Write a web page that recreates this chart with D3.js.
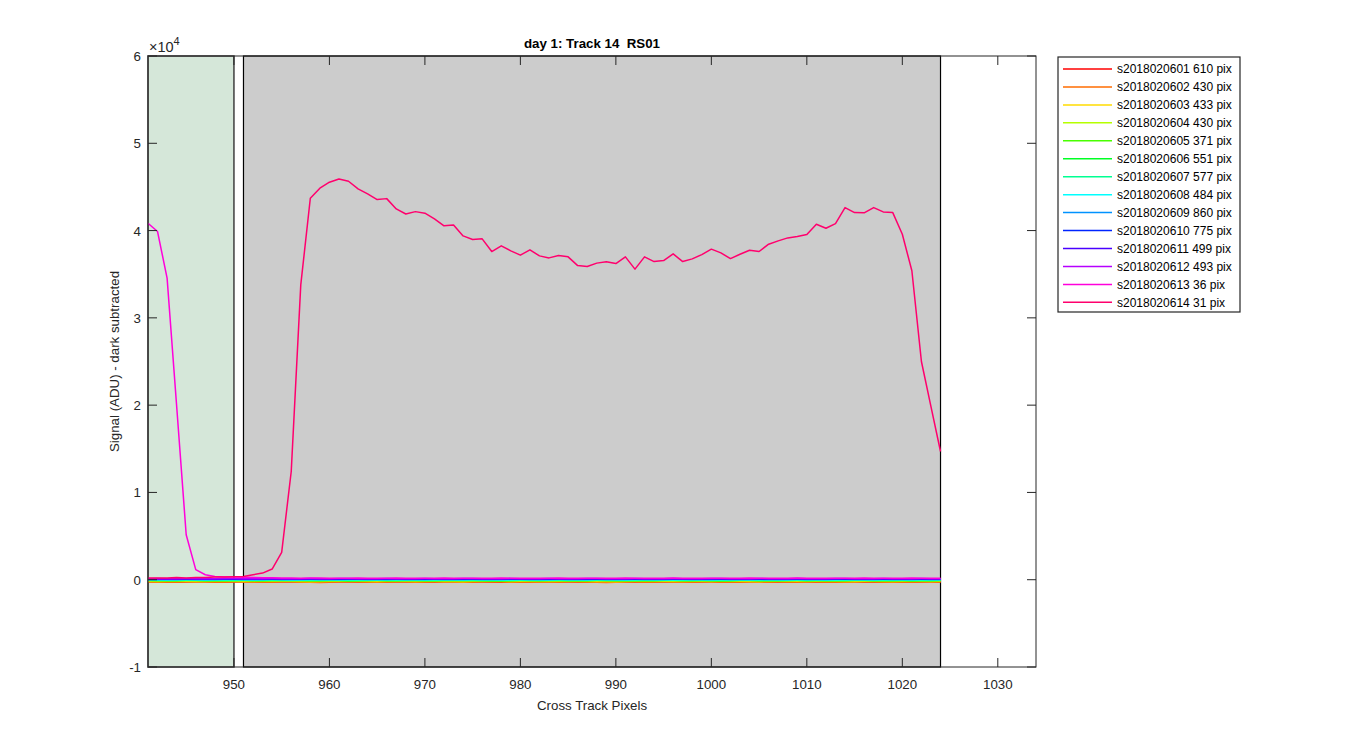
<!DOCTYPE html>
<html><head><meta charset="utf-8">
<script src="https://cdn.jsdelivr.net/npm/d3@7"></script>
<style>
html,body{margin:0;padding:0;background:#fff;}
svg{display:block;font-family:"Liberation Sans",Arial,sans-serif;}
text{white-space:pre;}
</style></head>
<body>
<svg id="c" width="1350" height="750"></svg>
<script>
// ---- data ----
const pixels = d3.range(941, 1025); // cross-track pixel index 941..1024
const xTicks = [950, 960, 970, 980, 990, 1000, 1010, 1020, 1030];
const yTicks = [-1, 0, 1, 2, 3, 4, 5, 6]; // x10^4
const seriesNames = ["s2018020601","s2018020602","s2018020603","s2018020604","s2018020605","s2018020606","s2018020607","s2018020608","s2018020609","s2018020610","s2018020611","s2018020612","s2018020613","s2018020614"];
const pixCounts = [610, 430, 433, 430, 371, 551, 577, 484, 860, 775, 499, 493, 36, 31];
const greenBand = [941, 950];
const grayBand = [951, 1024];

const s01 = [-210,-230,-220,-250,-240,-220,-230,-260,-240,-230,
 -220,-250,-270,-240,-230,-220,-240,-260,-250,-230,
 -210,-240,-260,-280,-250,-230,-240,-220,-250,-270,
 -260,-230,-240,-250,-220,-240,-270,-290,-250,-230,
 -240,-260,-250,-220,-230,-270,-300,-260,-240,-230,
 -250,-260,-240,-230,-220,-250,-270,-260,-240,-230,
 -250,-240,-220,-230,-260,-280,-250,-240,-230,-250,
 -270,-260,-240,-220,-230,-250,-260,-280,-300,-270,
 -250,-240,-230,-250];
const s02 = [-260,-280,-270,-290,-260,-250,-270,-280,-300,-270,
 -260,-250,-280,-290,-270,-260,-280,-300,-310,-280,
 -270,-260,-250,-270,-290,-280,-260,-270,-300,-280,
 -270,-250,-260,-280,-290,-270,-260,-250,-280,-300,
 -290,-270,-260,-280,-270,-250,-260,-290,-310,-280,
 -270,-260,-280,-290,-270,-250,-260,-280,-270,-260,
 -290,-300,-280,-270,-260,-250,-270,-290,-280,-260,
 -270,-280,-300,-290,-270,-260,-250,-270,-280,-300,
 -290,-270,-260,-280];
const s03 = [-180,-200,-190,-170,-190,-210,-200,-180,-170,-190,
 -200,-210,-190,-180,-170,-190,-200,-220,-200,-180,
 -190,-170,-180,-200,-210,-190,-180,-190,-200,-170,
 -180,-200,-210,-220,-190,-180,-170,-190,-200,-180,
 -190,-210,-200,-180,-170,-180,-200,-190,-210,-220,
 -200,-180,-190,-170,-180,-200,-210,-190,-180,-200,
 -190,-170,-180,-200,-220,-210,-190,-180,-190,-200,
 -180,-170,-190,-210,-200,-180,-190,-200,-210,-190,
 -180,-190,-200,-180];
const s04 = [-120,-140,-130,-110,-130,-150,-140,-120,-130,-140,
 -110,-120,-140,-150,-130,-120,-110,-130,-140,-120,
 -130,-150,-140,-120,-110,-130,-140,-130,-120,-150,
 -140,-120,-130,-110,-120,-140,-150,-130,-120,-140,
 -130,-110,-120,-140,-130,-150,-140,-120,-130,-110,
 -120,-140,-130,-120,-150,-140,-130,-110,-120,-130,
 -140,-150,-130,-120,-110,-130,-140,-120,-130,-150,
 -140,-130,-120,-110,-130,-140,-120,-130,-140,-150,
 -130,-120,-140,-130];
const s05 = [-100,-90,-110,-120,-100,-90,-110,-130,-110,-100,
 -90,-120,-140,-110,-100,-90,-110,-120,-100,-110,
 -130,-150,-110,-90,-100,-120,-110,-100,-90,-110,
 -120,-130,-110,-100,-90,-110,-140,-160,-120,-100,
 -90,-110,-120,-100,-110,-130,-120,-100,-90,-110,
 -100,-120,-140,-110,-100,-90,-110,-120,-100,-110,
 -150,-130,-100,-90,-110,-120,-110,-100,-90,-110,
 -130,-120,-100,-110,-90,-100,-120,-110,-100,-130,
 -150,-120,-100,-110];
const s06 = [-70,-80,-90,-80,-70,-60,-80,-90,-100,-80,
 -70,-80,-60,-70,-90,-80,-70,-80,-90,-70,
 -60,-80,-90,-80,-70,-80,-100,-90,-70,-80,
 -80,-70,-60,-80,-90,-80,-70,-90,-80,-70,
 -80,-90,-70,-60,-80,-90,-80,-70,-80,-100,
 -90,-80,-70,-80,-60,-70,-90,-80,-70,-80,
 -90,-80,-70,-60,-80,-90,-100,-80,-70,-80,
 -70,-80,-90,-80,-70,-60,-80,-90,-80,-70,
 -80,-90,-80,-70];
const s07 = [-40,-50,-60,-50,-40,-50,-70,-60,-50,-40,
 -50,-60,-50,-40,-30,-50,-60,-50,-70,-50,
 -40,-50,-60,-50,-40,-50,-60,-70,-50,-40,
 -50,-40,-60,-50,-40,-50,-60,-50,-40,-50,
 -60,-70,-50,-40,-50,-60,-50,-40,-30,-50,
 -60,-50,-40,-50,-60,-50,-70,-60,-50,-40,
 -50,-60,-50,-40,-50,-60,-50,-40,-50,-60,
 -70,-50,-40,-50,-60,-50,-40,-50,-60,-50,
 -40,-50,-60,-50];
const s08 = [-10,0,-20,-10,0,-10,-20,-10,0,10,
 -10,-20,-10,0,-10,-20,-30,-10,0,-10,
 -20,-10,0,-10,-20,-10,0,10,-10,-20,
 -10,0,-10,-20,-10,0,-10,-20,-30,-10,
 0,-10,-20,-10,0,-10,-20,-10,0,-10,
 -20,-10,0,10,-10,-20,-10,0,-10,-20,
 -10,0,-10,-20,-10,0,-10,-20,-10,0,
 -10,-20,-30,-10,0,-10,-20,-10,0,-10,
 -20,-10,0,-10];
const s09 = [30,40,20,30,40,30,20,30,40,50,
 30,20,30,40,30,20,30,40,30,20,
 30,40,50,30,20,30,40,30,20,30,
 40,30,20,30,40,30,20,30,40,50,
 30,20,30,40,30,20,30,40,30,20,
 30,40,30,20,30,40,50,30,20,30,
 40,30,20,30,40,30,20,30,40,30,
 20,30,40,50,30,20,30,40,30,20,
 30,40,30,20];
const s10 = [60,70,50,60,70,60,50,60,70,60,
 50,60,70,80,60,50,60,70,60,50,
 60,70,60,50,60,70,80,60,50,60,
 70,60,50,60,70,60,50,60,70,60,
 80,60,50,60,70,60,50,60,70,60,
 50,60,70,60,80,70,60,50,60,70,
 60,50,60,70,60,50,60,70,80,60,
 50,60,70,60,50,60,70,60,50,60,
 70,60,50,60];
const s11 = [90,100,80,90,100,90,80,90,100,110,
 90,80,90,100,90,80,90,100,90,80,
 100,110,90,80,90,100,90,80,90,100,
 90,80,90,100,110,90,80,90,100,90,
 80,90,100,90,80,90,100,110,90,80,
 90,100,90,80,90,100,90,80,90,110,
 100,90,80,90,100,90,80,90,100,90,
 80,90,100,110,90,80,90,100,90,80,
 90,100,90,80];
const s12 = [120,130,110,120,130,120,110,120,130,140,
 120,110,120,130,120,110,120,130,120,110,
 130,140,120,110,120,130,120,110,120,130,
 120,110,120,130,140,120,110,120,130,120,
 110,120,130,120,110,120,130,140,120,110,
 120,130,120,110,120,130,120,110,120,140,
 130,120,110,120,130,120,110,120,130,120,
 110,120,130,140,120,110,120,130,120,110,
 120,130,120,110];
const s13 = [40840,39890,34550,19900,5150,1150,570,380,320,300,
 280,250,230,220,200,190,180,190,200,180,
 170,180,190,170,160,180,190,170,180,160,
 170,190,180,170,160,180,170,190,180,170,
 160,170,180,190,170,160,180,170,160,180,
 190,170,160,180,170,190,180,160,170,180,
 170,160,180,190,170,160,170,180,190,170,
 160,180,170,160,180,190,170,160,170,180,
 190,170,160,170];
const s14 = [200,200,200,250,200,250,250,300,300,350,
 380,570,760,1220,3130,12400,33780,43700,44850,45540,
 45900,45650,44770,44200,43550,43660,42480,41900,42170,41990,
 41340,40540,40650,39390,38970,39050,37600,38250,37670,37180,
 37790,37100,36870,37140,36990,35990,35880,36270,36430,36220,
 36990,35580,36990,36450,36560,37330,36450,36760,37250,37870,
 37440,36790,37290,37750,37600,38440,38820,39160,39310,39540,
 40730,40270,40800,42630,42060,42030,42630,42140,42060,39580,
 35400,25000,19840,14690];
const seriesValues = [s01,s02,s03,s04,s05,s06,s07,s08,s09,s10,s11,s12,s13,s14];
const seriesColors = ["#ff0000","#ff6d00","#ffdb00","#b6ff00","#49ff00","#00ff24","#00ff92","#00ffff","#0092ff","#0024ff","#4900ff","#b600ff","#ff00db","#ff006d"];

// ---- layout ----
const L = 148, R = 1036, T = 56, B = 667;
const svg = d3.select("#c");
const x = d3.scaleLinear().domain([941, 1034]).range([L, R]);
const y = d3.scaleLinear().domain([-10000, 60000]).range([B, T]);
const axisColor = "#262626";
const tickLen = 9;

svg.append("defs").append("clipPath").attr("id","clip")
  .append("rect").attr("x",L).attr("y",T).attr("width",R-L).attr("height",B-T);

svg.append("rect").attr("x",L).attr("y",T).attr("width",R-L).attr("height",B-T).attr("fill","#fff");

// bands
svg.append("rect")
  .attr("x", x(greenBand[0])).attr("y", T)
  .attr("width", x(greenBand[1]) - x(greenBand[0])).attr("height", B - T)
  .attr("fill", "#d5e7d9").attr("stroke", "#4a4a4a").attr("stroke-width", 1.6);
svg.append("rect")
  .attr("x", x(grayBand[0])).attr("y", T)
  .attr("width", x(grayBand[1]) - x(grayBand[0])).attr("height", B - T)
  .attr("fill", "#cccccc").attr("stroke", "#000").attr("stroke-width", 1.2);

// lines
const line = d3.line().x((d,i)=>x(pixels[i])).y(d=>y(d));
const gl = svg.append("g").attr("clip-path","url(#clip)");
seriesValues.forEach((vals, k) => {
  gl.append("path").datum(vals).attr("d", line)
    .attr("fill","none").attr("stroke", seriesColors[k])
    .attr("stroke-width", 1.5).attr("stroke-linejoin","round");
});

// axes box
const ga = svg.append("g").attr("stroke", axisColor).attr("stroke-width", 1).attr("fill","none");
ga.append("rect").attr("x",L).attr("y",T).attr("width",R-L).attr("height",B-T);
xTicks.forEach(t => {
  ga.append("line").attr("x1",x(t)).attr("x2",x(t)).attr("y1",B).attr("y2",B-tickLen);
  ga.append("line").attr("x1",x(t)).attr("x2",x(t)).attr("y1",T).attr("y2",T+tickLen);
});
yTicks.forEach(t => {
  ga.append("line").attr("x1",L).attr("x2",L+tickLen).attr("y1",y(t*1e4)).attr("y2",y(t*1e4));
  ga.append("line").attr("x1",R).attr("x2",R-tickLen).attr("y1",y(t*1e4)).attr("y2",y(t*1e4));
});

// tick labels
const gt = svg.append("g").attr("fill", axisColor).attr("font-size", "13.3px");
xTicks.forEach(t => {
  gt.append("text").attr("x", x(t)).attr("y", B + 22).attr("text-anchor","middle").text(t);
});
yTicks.forEach(t => {
  gt.append("text").attr("x", L - 7).attr("y", y(t*1e4) + 5).attr("text-anchor","end").text(t);
});
const ex = gt.append("text").attr("x", L + 1).attr("y", T - 4).attr("font-size","14.5px");
ex.append("tspan").text("\u00d710");
ex.append("tspan").attr("dy", -7).attr("font-size","11px").text("4");

// title & labels
svg.append("text").attr("x", (L+R)/2).attr("y", T - 8).attr("text-anchor","middle")
  .attr("font-weight","bold").attr("font-size","13.3px").attr("fill","#000")
  .text("day 1: Track 14  RS01");
svg.append("text").attr("x", (L+R)/2).attr("y", 710).attr("text-anchor","middle")
  .attr("font-size","13.3px").attr("fill", axisColor).text("Cross Track Pixels");
svg.append("text").attr("transform", `translate(119,${(T+B)/2}) rotate(-90)`)
  .attr("text-anchor","middle").attr("font-size","13.3px").attr("fill", axisColor)
  .text("Signal (ADU) - dark subtracted");

// legend
const lg = svg.append("g");
lg.append("rect").attr("x",1058).attr("y",57).attr("width",182).attr("height",255)
  .attr("fill","#fff").attr("stroke","#262626").attr("stroke-width",1.2);
seriesNames.forEach((nm, k) => {
  const yy = 69 + k * 17.95;
  lg.append("line").attr("x1",1063).attr("x2",1112).attr("y1",yy).attr("y2",yy)
    .attr("stroke", seriesColors[k]).attr("stroke-width",1.5);
  lg.append("text").attr("x",1117).attr("y",yy+4.3).attr("font-size","12px").attr("fill","#000")
    .text(`${nm} ${pixCounts[k]} pix`);
});
</script>
</body></html>
